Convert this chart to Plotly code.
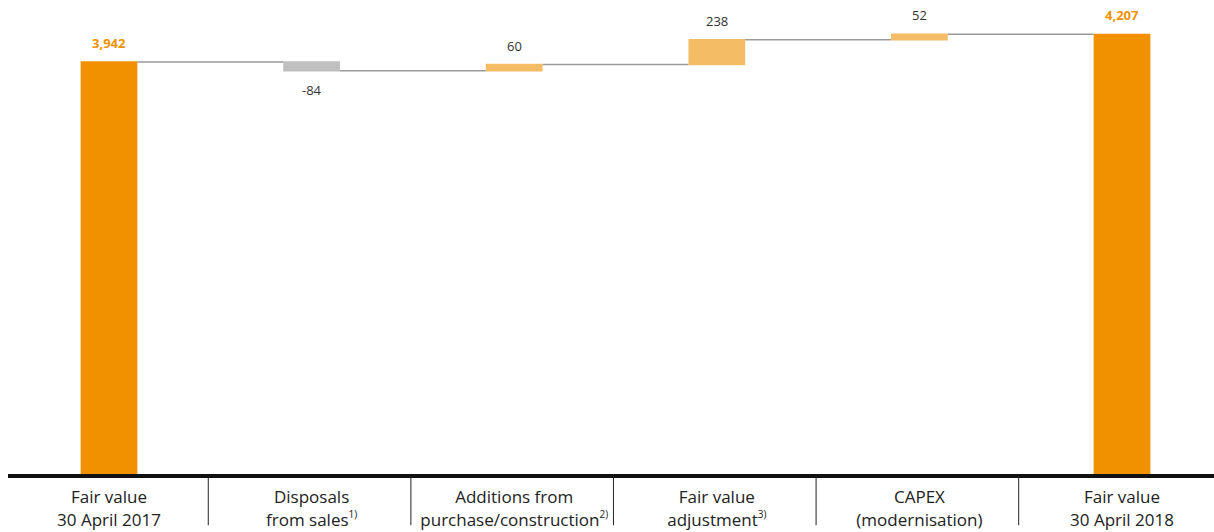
import plotly.graph_objects as go

SUP = "<sup><span style='font-size:10px'>{}</span></sup>"

# Fair value bridge, 30 April 2017 -> 30 April 2018 (EUR m)
categories = [
    "Fair value<br>30 April 2017",
    "Disposals<br>from sales" + SUP.format("1)"),
    "Additions from<br>purchase/construction" + SUP.format("2)"),
    "Fair value<br>adjustment" + SUP.format("3)"),
    "CAPEX<br>(modernisation)",
    "Fair value<br>30 April 2018",
]
values = [3942, -84, 60, 238, 52, 4207]
measures = ["absolute", "relative", "relative", "relative", "relative", "absolute"]

ORANGE = "#F29100"
LIGHT_ORANGE = "#F5BC66"
GREY_BAR = "#BFBFBF"
FONT = "Open Sans"

fig = go.Figure(
    go.Waterfall(
        x=categories,
        y=values,
        measure=measures,
        width=0.28,
        totals=dict(marker=dict(color=ORANGE)),
        increasing=dict(marker=dict(color=LIGHT_ORANGE)),
        decreasing=dict(marker=dict(color=GREY_BAR)),
        connector=dict(line=dict(color="#9A9A9A", width=1.5)),
        showlegend=False,
        hoverinfo="skip",
    )
)

# value labels: totals in orange above the bar, changes above (or below if negative)
running = 0
for cat, val, m in zip(categories, values, measures):
    if m == "absolute":
        running = val
        fig.add_annotation(
            x=cat, y=running, text=f"<b>{val:,}</b>", showarrow=False,
            yanchor="bottom", yshift=8,
            font=dict(family=FONT, size=13, color=ORANGE),
        )
    else:
        start = running
        running += val
        if val < 0:
            fig.add_annotation(
                x=cat, y=min(start, running), text=f"{val:,}", showarrow=False,
                yanchor="top", yshift=-8,
                font=dict(family=FONT, size=13, color="#333333"),
            )
        else:
            fig.add_annotation(
                x=cat, y=max(start, running), text=f"{val:,}", showarrow=False,
                yanchor="bottom", yshift=8,
                font=dict(family=FONT, size=13, color="#333333"),
            )

# thin separators between the category labels
for k in range(len(categories) - 1):
    fig.add_shape(
        type="line", xref="x", yref="paper",
        x0=k + 0.49, x1=k + 0.49, y0=-0.005, y1=-0.108,
        line=dict(color="#222222", width=1),
    )

fig.update_layout(
    width=1214,
    height=532,
    margin=dict(l=8, r=0, t=0, b=58),
    paper_bgcolor="white",
    plot_bgcolor="white",
    font=dict(family=FONT, color="#222222"),
    xaxis=dict(
        range=[-0.4985, 5.454],
        showline=True, linecolor="#111111", linewidth=4,
        ticks="", showgrid=False,
        tickfont=dict(family=FONT, size=17, color="#222222"),
        ticklabelstandoff=5,
    ),
    yaxis=dict(
        range=[0, 4536],
        visible=False, showgrid=False, zeroline=False,
    ),
)

fig.write_html("out.html")
